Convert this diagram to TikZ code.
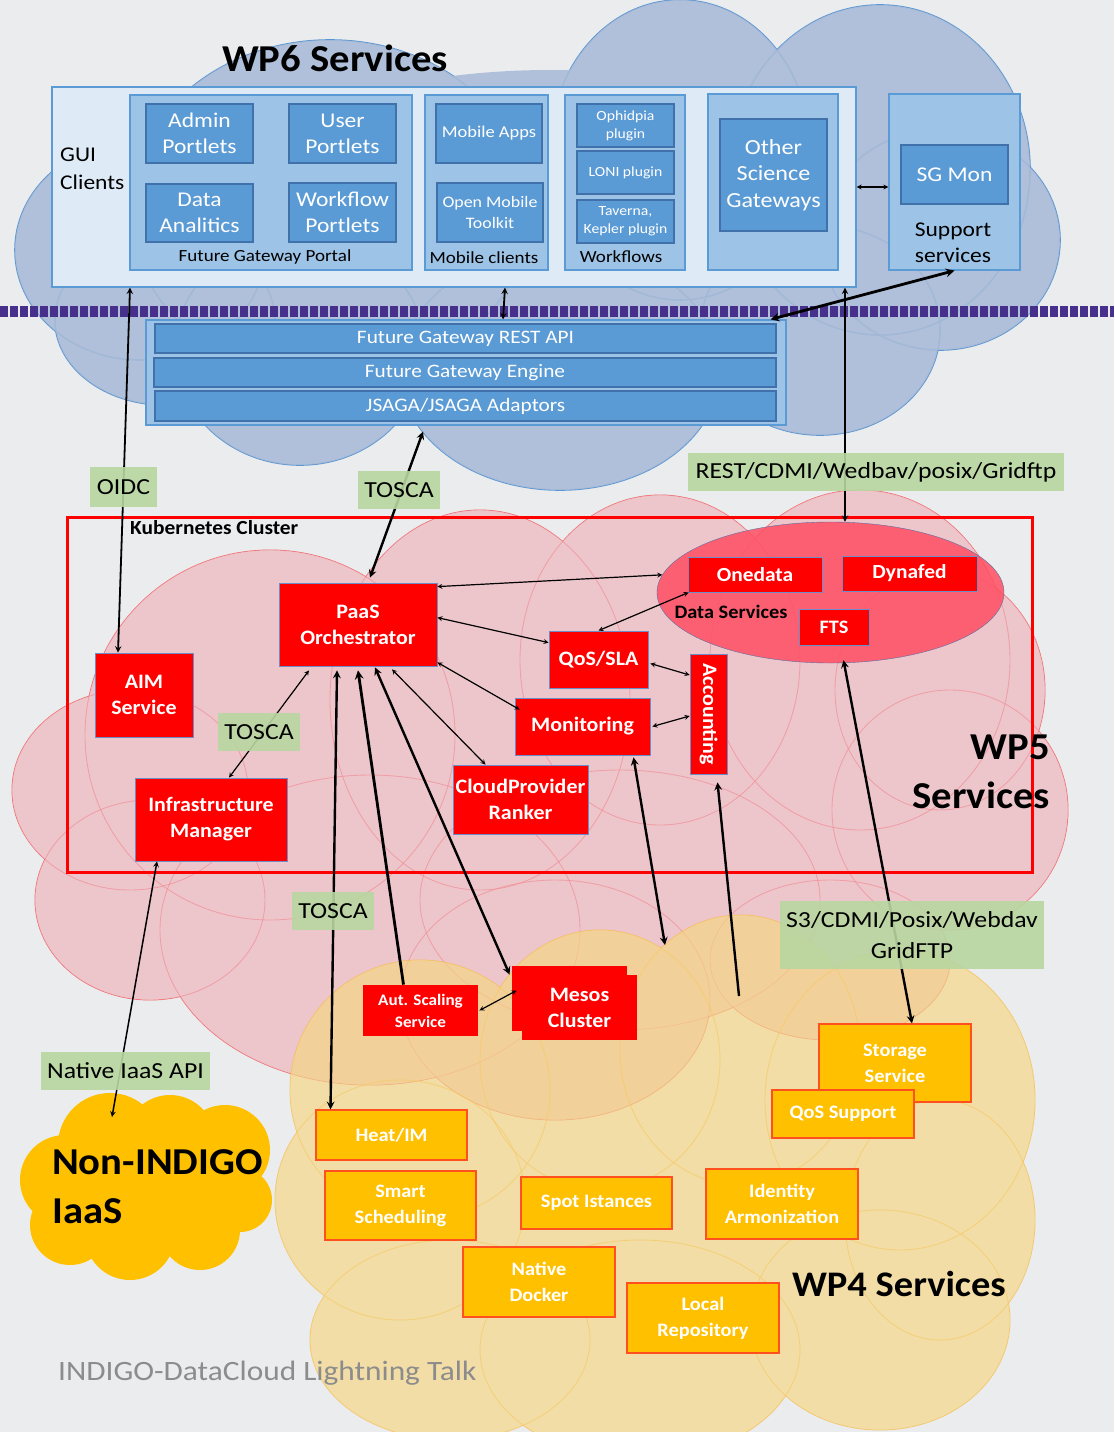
\documentclass[tikz,border=0pt]{standalone}
\usepackage{fontspec}
\setmainfont{Carlito}[FakeStretch=1.12, BoldFeatures={FakeStretch=1.07}]
\usetikzlibrary{shadows, shapes.geometric}
\definecolor{bgcol}{RGB}{235,236,238}
\definecolor{wpsixfill}{RGB}{170,188,216}
\definecolor{wpsixline}{RGB}{91,150,210}
\definecolor{wpfivefill}{RGB}{238,184,192}
\definecolor{wpfiveline}{RGB}{240,40,40}
\definecolor{wpfourfill}{RGB}{246,214,128}
\definecolor{wpfourline}{RGB}{246,180,60}
\definecolor{guifill}{RGB}{222,235,247}
\definecolor{panelfill}{RGB}{157,195,230}
\definecolor{panelline}{RGB}{91,155,213}
\definecolor{boxfill}{RGB}{91,155,213}
\definecolor{boxline}{RGB}{65,113,170}
\definecolor{redline}{RGB}{110,140,200}
\definecolor{goldfill}{RGB}{255,192,0}
\definecolor{goldline}{RGB}{255,80,30}
\definecolor{lblfill}{RGB}{184,214,160}
\definecolor{dsfill}{RGB}{255,78,98}
\definecolor{dsline}{RGB}{90,110,160}
\definecolor{bandcol}{RGB}{70,48,140}
\definecolor{footgray}{RGB}{140,140,140}
\newcommand{\fsz}[2]{\fontsize{#1}{#2}\selectfont}
% cloud puffs: x/y/x radius/y radius
\def\wpsixpuffs{330/210/200/170, 680/150/130/150, 880/170/150/165, 940/240/120/110, 140/250/125/110, 165/320/110/85, 300/350/125/115, 560/370/160/120, 820/330/120/105}
\def\wpfivepuffs{270/735/185/185, 130/790/118/100, 480/700/150/190, 660/660/140/165, 860/660/150/170, 940/690/105/120, 950/810/118/120, 150/900/115/100, 370/930/210/155, 620/900/200/130, 555/1000/155/120, 830/960/120/80}
\def\wpfourpuffs{420/1090/130/130, 600/1060/120/130, 740/1050/120/135, 900/1100/135/150, 400/1200/125/120, 940/1220/95/120, 450/1340/140/100, 640/1350/160/110, 880/1320/130/110}
\def\goldpuffs{110/1145/52/52, 170/1140/45/45, 225/1150/45/45, 65/1180/45/45, 70/1225/40/40, 130/1235/45/45, 200/1230/40/40, 240/1200/32/32, 150/1190/100/60}
\begin{document}
\begin{tikzpicture}[x=1pt, y=-1pt,
    panel/.style={draw=panelline, fill=panelfill, line width=1.2, inner sep=0},
    bluebox/.style={draw=boxline, fill=boxfill, line width=1.2, text=white, align=center, inner sep=0},
    redbox/.style={draw=redline, fill=red, line width=0.8, text=white, align=center, inner sep=0, font=\bfseries\fsz{20.5}{26}},
    goldbox/.style={draw=goldline, fill=goldfill, line width=1.2, text=white, align=center, inner sep=0, font=\bfseries\fsz{19}{26}},
    tag/.style={fill=lblfill, fill opacity=0.9, text opacity=1, text=black, align=center, inner sep=0, font=\fsz{23}{31}},
    conn/.style={<->, >=stealth, line width=1.2},
    bigconn/.style={<->, >=stealth, line width=2.4},
    title/.style={font=\bfseries\fsz{38}{48}, inner sep=0}]
\clip (0,0) rectangle (1114,1432);
\fill[bgcol] (0,0) rectangle (1114,1432);

% WP6 cloud
\foreach \cx/\cy/\rx/\ry in \wpsixpuffs
  \draw[wpsixline, line width=1.6] (\cx,\cy) ellipse [x radius=\rx pt, y radius=\ry pt];
\fill[wpsixfill, fill opacity=0.9] \foreach \cx/\cy/\rx/\ry in \wpsixpuffs {(\cx,\cy) ellipse [x radius=\rx pt, y radius=\ry pt]} (550,250) ellipse [x radius=380pt, y radius=180pt];

% band
\draw[bandcol, line width=11, dash pattern=on 8 off 2] (0,311) -- (1114,311);

% WP5 cloud
\foreach \cx/\cy/\rx/\ry in \wpfivepuffs
  \draw[wpfiveline, line width=0.9, draw opacity=0.7] (\cx,\cy) ellipse [x radius=\rx pt, y radius=\ry pt];
\fill[wpfivefill, fill opacity=0.72] \foreach \cx/\cy/\rx/\ry in \wpfivepuffs {(\cx,\cy) ellipse [x radius=\rx pt, y radius=\ry pt]} (550,780) ellipse [x radius=400pt, y radius=200pt];

% WP4 cloud
\foreach \cx/\cy/\rx/\ry in \wpfourpuffs
  \draw[wpfourline, line width=0.9, draw opacity=0.7] (\cx,\cy) ellipse [x radius=\rx pt, y radius=\ry pt];
\fill[wpfourfill, fill opacity=0.65] \foreach \cx/\cy/\rx/\ry in \wpfourpuffs {(\cx,\cy) ellipse [x radius=\rx pt, y radius=\ry pt]} (660,1200) ellipse [x radius=300pt, y radius=180pt];

% Non-INDIGO cloud
\fill[goldfill] \foreach \cx/\cy/\rx/\ry in \goldpuffs {(\cx,\cy) ellipse [x radius=\rx pt, y radius=\ry pt]};

% WP6 services
\node[title] (wpsix) at (335,58) {WP6 Services};
\node[panel, fill=guifill, minimum width=804, minimum height=200] (guibox) at (454,187) {};
\node[anchor=west, align=left, font=\fsz{21}{28}, inner sep=0] (guilbl) at (60,169) {GUI\\Clients};
\node[panel, minimum width=282, minimum height=175] (fgportal) at (271,182.5) {};
\node[bluebox, minimum width=107, minimum height=59, font=\fsz{21}{26}] (admin) at (199.5,133.5) {Admin\\Portlets};
\node[bluebox, minimum width=107, minimum height=59, font=\fsz{21}{26}] (user) at (342.5,133.5) {User\\Portlets};
\node[bluebox, minimum width=107, minimum height=58, font=\fsz{21}{26}] (analitics) at (199.5,213) {Data\\Analitics};
\node[bluebox, minimum width=107, minimum height=59, font=\fsz{21}{26}] (wfportlets) at (342.5,212.5) {Workflow\\Portlets};
\node[font=\fsz{17}{20}, inner sep=0] (fgplbl) at (265,257) {Future Gateway Portal};
\node[panel, minimum width=123, minimum height=175] (mobpanel) at (486.5,182.5) {};
\node[bluebox, minimum width=106, minimum height=59, font=\fsz{16.5}{20}] (mobapps) at (489,133.5) {Mobile Apps};
\node[bluebox, minimum width=106, minimum height=59, font=\fsz{16}{21}] (omt) at (490,212.5) {Open Mobile\\Toolkit};
\node[font=\fsz{17}{20}, inner sep=0] (moblbl) at (484,258) {Mobile clients};
\node[panel, minimum width=120, minimum height=175] (wfpanel) at (625,182.5) {};
\node[bluebox, minimum width=97, minimum height=43, font=\fsz{14}{18}] (ophid) at (625.5,125.5) {Ophidpia\\plugin};
\node[bluebox, minimum width=97, minimum height=43, font=\fsz{14}{18}] (loni) at (625.5,172.5) {LONI plugin};
\node[bluebox, minimum width=97, minimum height=43, font=\fsz{14}{18}] (taverna) at (625.5,221.5) {Taverna,\\Kepler plugin};
\node[font=\fsz{17}{20}, inner sep=0] (wflbl) at (621,257) {Workflows};
\node[panel, minimum width=130, minimum height=176] (osgpanel) at (773,182) {};
\node[bluebox, minimum width=107, minimum height=112, font=\fsz{21.5}{26.5}] (osg) at (773.5,175) {Other\\Science\\Gateways};
\node[panel, minimum width=131, minimum height=176] (suppanel) at (954.5,182) {};
\node[bluebox, minimum width=107, minimum height=59, font=\fsz{21}{26}] (sgmon) at (954.5,174.5) {SG Mon};
\node[align=center, font=\fsz{21}{26}, inner sep=0] (suplbl) at (953,243) {Support\\services};

% future gateway stack
\node[panel, minimum width=640, minimum height=105] (stack) at (466,372.5) {};
\node[bluebox, minimum width=621, minimum height=29, font=\fsz{19}{22}] (rest) at (465.5,338.5) {Future Gateway REST API};
\node[bluebox, minimum width=622, minimum height=29, font=\fsz{19}{22}] (engine) at (465,372.5) {Future Gateway Engine};
\node[bluebox, minimum width=621, minimum height=30, font=\fsz{19}{22}] (jsaga) at (465.5,406) {JSAGA/JSAGA Adaptors};

% WP5 services
\node[ellipse, draw=dsline, fill=dsfill, fill opacity=0.85, minimum width=347, minimum height=141, inner sep=0] (dataell) at (830.5,592.5) {};
\draw[red, line width=3] (67,517) rectangle (1032,872);
\node[anchor=west, font=\bfseries\fsz{20}{22}, inner sep=0] (k8slbl) at (130,528) {Kubernetes Cluster};
\node[redbox, minimum width=134, minimum height=35, font=\bfseries\fsz{20}{24}] (onedata) at (755,574.5) {Onedata};
\node[redbox, minimum width=135, minimum height=35, font=\bfseries\fsz{20}{24}] (dynafed) at (909.5,573.5) {Dynafed};
\node[redbox, minimum width=70, minimum height=36, font=\bfseries\fsz{19}{24}] (fts) at (834,627) {FTS};
\node[font=\bfseries\fsz{19}{22}, inner sep=0] (dslbl) at (731,612) {Data Services};
\node[redbox, minimum width=158, minimum height=83] (paas) at (358,624.5) {PaaS\\Orchestrator};
\node[redbox, minimum width=98, minimum height=84] (aim) at (144,695) {AIM\\Service};
\node[redbox, minimum width=99, minimum height=57] (qos) at (598.5,659.5) {QoS/SLA};
\node[redbox, minimum width=135, minimum height=57] (mon) at (582.5,726.5) {Monitoring};
\node[redbox, minimum width=37, minimum height=120] (acct) at (708.5,714) {\rotatebox{-90}{Accounting}};
\node[redbox, minimum width=135, minimum height=69] (cpr) at (520.5,799.5) {CloudProvider\\Ranker};
\node[redbox, minimum width=152, minimum height=83] (infra) at (211,819.5) {Infrastructure\\Manager};
\node[redbox, draw=none, minimum width=115, minimum height=51, font=\bfseries\fsz{16}{22}] (autsc) at (420.5,1010.5) {Aut. Scaling\\Service};
\node[redbox, draw=none, minimum width=115, minimum height=65, copy shadow={shadow xshift=-10pt, shadow yshift=9pt, fill=red, draw=none}] (mesos) at (579.5,1007.5) {Mesos\\Cluster};
\node[anchor=east, align=right, font=\bfseries\fsz{38}{49}, inner sep=0] (wpfive) at (1050,772) {WP5\\Services};

% WP4 services
\node[goldbox, minimum width=152, minimum height=78] (storage) at (895,1063) {Storage\\Service};
\node[goldbox, minimum width=142, minimum height=48] (qossup) at (843,1114) {QoS Support};
\node[goldbox, minimum width=151, minimum height=50] (heat) at (391.5,1135) {Heat/IM};
\node[goldbox, minimum width=151, minimum height=69] (smart) at (400.5,1205.5) {Smart\\Scheduling};
\node[goldbox, minimum width=151, minimum height=52] (spot) at (596.5,1203) {Spot Istances};
\node[goldbox, minimum width=152, minimum height=70] (ident) at (782,1204) {Identity\\Armonization};
\node[goldbox, minimum width=152, minimum height=70] (ndocker) at (539,1282) {Native\\Docker};
\node[goldbox, minimum width=152, minimum height=70] (localrep) at (703,1318) {Local\\Repository};
\node[font=\bfseries\fsz{36}{40}, inner sep=0] (wpfour) at (899,1284) {WP4 Services};

% Non-INDIGO IaaS
\node[anchor=west, align=left, font=\bfseries\fsz{38}{49}, inner sep=0] (niaas) at (52,1187) {Non-INDIGO\\IaaS};
\coordinate (niaastop) at (112,1117);
\coordinate (monend) at (665,945);
\coordinate (acctend) at (739,996);

% connectors
\draw[conn, line width=1.8] ([xshift=-26]aim.north) -- ([xshift=-14]aim.north |- guibox.south);
\draw[conn, line width=1.8] ([xshift=51]guibox.south) -- ([xshift=37]stack.north);
\draw[bigconn, line width=2.8] (suppanel.south) -- ([xshift=-16]stack.north east);
\draw[conn] (guibox.east) -- (guibox.east -| suppanel.west);
\draw[conn, line width=1.8] ([xshift=391]guibox.south) -- ([xshift=391]guibox.south |- dataell.north);
\draw[bigconn] ([xshift=-43,yshift=-6]stack.south) -- ([xshift=12,yshift=5]paas.north);
\draw[conn] ([yshift=-4]paas.north east) -- (dataell.174);
\draw[conn] ([yshift=-35]paas.north east) -- ([yshift=-12]qos.north west);
\draw[conn] ([xshift=1]onedata.south west) -- (qos.north);
\draw[conn] ([yshift=4]paas.south east) -- ([xshift=5,yshift=-12]mon.north west);
\draw[conn] ([xshift=34,yshift=-3]paas.south) -- ([xshift=-35]cpr.north);
\draw[conn] ([xshift=2,yshift=-4]qos.east) -- ([yshift=39]acct.west);
\draw[conn] ([xshift=2]mon.east) -- ([yshift=-2]acct.west);
\draw[conn] ([xshift=-49,yshift=-4]paas.south) -- ([xshift=18]infra.north);
\draw[conn, line width=1.5] ([xshift=-54]infra.south) -- (niaastop);
\draw[bigconn] ([xshift=-21,yshift=-4]paas.south) -- ([xshift=-61]heat.north);
\draw[bigconn, line width=2.8, <-] ([yshift=-4]paas.south) -- ([xshift=-17]autsc.north);
\draw[bigconn] ([xshift=17,yshift=-1]paas.south) -- ([xshift=-12]mesos.north west);
\draw[conn] ([xshift=1]autsc.east) -- ([xshift=-5,yshift=17]mesos.west);
\draw[bigconn] ([xshift=51,yshift=-2]mon.south) -- (monend);
\draw[bigconn, ->] (acctend) -- ([xshift=9,yshift=-8]acct.south);
\draw[bigconn] ([xshift=13,yshift=3]dataell.south) -- ([xshift=17]storage.north);

% protocol tags
\node[tag, minimum width=67, minimum height=40] (oidc) at (123.5,487) {OIDC};
\node[tag, minimum width=82, minimum height=38] (toscaone) at (399,490) {TOSCA};
\node[tag, minimum width=376, minimum height=38] (resttag) at (876,472) {REST/CDMI/Wedbav/posix/Gridftp};
\node[tag, minimum width=82, minimum height=38] (toscatwo) at (259,732) {TOSCA};
\node[tag, minimum width=82, minimum height=38] (toscathree) at (333,911) {TOSCA};
\node[tag, minimum width=264, minimum height=68] (sthree) at (912,935) {S3/CDMI/Posix/Webdav\\GridFTP};
\node[tag, minimum width=169, minimum height=38] (nativetag) at (125.5,1071) {Native IaaS API};

% footer
\node[anchor=west, text=footgray, font=\fsz{28}{32}, inner sep=0] (footer) at (58,1373) {INDIGO-DataCloud Lightning Talk};
\end{tikzpicture}
\end{document}
